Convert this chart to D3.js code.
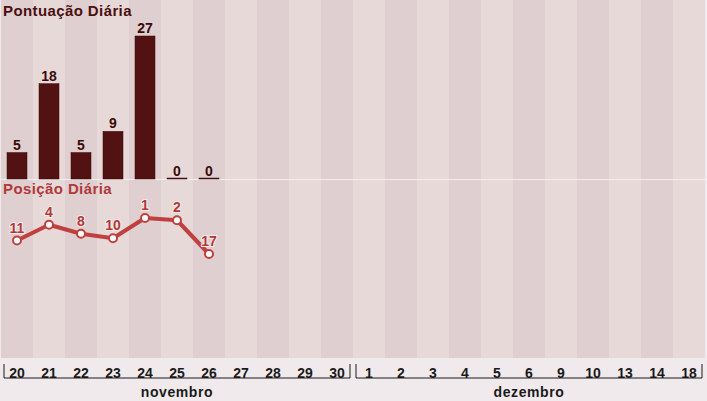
<!DOCTYPE html><html><head><meta charset="utf-8"><script src="https://cdn.jsdelivr.net/npm/d3@7"></script>
<style>body{margin:0;background:#f0eaec}svg{display:block;font-family:"Liberation Sans",Arial,sans-serif}</style></head><body><svg id="c" width="707" height="401"></svg>
<script>
const days=["20","21","22","23","24","25","26","27","28","29","30","1","2","3","4","5","6","9","10","13","14","18"];
const months=[{name:"novembro",from:0,to:10},{name:"dezembro",from:11,to:21}];
const scores=[5,18,5,9,27,0,0];
const positions=[11,4,8,10,1,2,17];
const svg=d3.select("#c");
const x=d3.scaleBand().domain(d3.range(days.length)).range([1,705]);
const yb=d3.scaleLinear().domain([0,27]).range([179,36]);
const yp=d3.scaleLinear().domain([1,17]).range([218,254]);
svg.selectAll(".col").data(days).join("rect").attr("x",(d,i)=>x(i)).attr("y",0).attr("width",x.bandwidth()).attr("height",358)
 .attr("fill",(d,i)=>i%2?"#e8d9d9":"#dfcfd0");
svg.append("line").attr("x1",0).attr("x2",707).attr("y1",179.5).attr("y2",179.5).attr("stroke","#f4eeee");
const bw=20;
svg.selectAll(".bar").data(scores).join("rect").attr("x",(d,i)=>x(i)+x.bandwidth()/2-bw/2).attr("width",bw)
 .attr("y",d=>yb(d)-(d==0?1:0)).attr("height",d=>179-yb(d)+(d==0?1:0)).attr("fill","#521212").attr("stroke","#3a0a0a").attr("stroke-width",0.5);
svg.selectAll(".bl").data(scores).join("text").attr("x",(d,i)=>x(i)+x.bandwidth()/2).attr("y",d=>yb(d)-3)
 .attr("text-anchor","middle").attr("font-size",14).attr("font-weight","bold").attr("fill","#3a0a0a").text(d=>d);
svg.append("text").attr("x",3).attr("y",16).attr("font-size",15).attr("font-weight","bold").attr("fill","#4a1010").attr("letter-spacing",0.4).text("Pontuação Diária");
svg.append("text").attr("x",3).attr("y",194).attr("font-size",15).attr("font-weight","bold").attr("fill","#b03a3a").attr("letter-spacing",0.4).text("Posição Diária");
const line=d3.line().x((d,i)=>x(i)+x.bandwidth()/2).y(d=>yp(d));
svg.append("path").datum(positions).attr("d",line).attr("fill","none").attr("stroke","#c04040").attr("stroke-width",4).attr("stroke-linejoin","round");
svg.selectAll(".pt").data(positions).join("circle").attr("cx",(d,i)=>x(i)+x.bandwidth()/2).attr("cy",d=>yp(d)).attr("r",4)
 .attr("fill","#fff").attr("stroke","#c04040").attr("stroke-width",2);
svg.selectAll(".pl").data(positions).join("text").attr("x",(d,i)=>x(i)+x.bandwidth()/2).attr("y",d=>yp(d)-8)
 .attr("text-anchor","middle").attr("font-size",14).attr("font-weight","bold").attr("fill","#b03a3a")
 .attr("stroke","#f4eaea").attr("stroke-width",2).attr("paint-order","stroke").text(d=>d);
svg.selectAll(".tk").data(days).join("text").attr("x",(d,i)=>x(i)+x.bandwidth()/2).attr("y",378)
 .attr("text-anchor","middle").attr("font-size",14).attr("font-weight","bold").attr("fill","#1a1a1a").text(d=>d);
months.forEach(m=>{
 const x0=x(m.from)+3,x1=x(m.to)+x.bandwidth()-3;
 svg.append("path").attr("d",`M${x0},364V378H${x1}V364`).attr("fill","none").attr("stroke","#1a1a1a").attr("stroke-width",1);
 svg.append("text").attr("x",(x0+x1)/2).attr("y",397).attr("text-anchor","middle").attr("font-size",14).attr("font-weight","bold").attr("letter-spacing",0.6).attr("fill","#1a1a1a").text(m.name);
});
</script></body></html>
